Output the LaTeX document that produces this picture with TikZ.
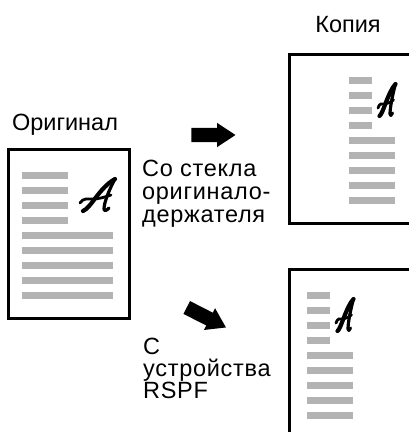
\documentclass[tikz,border=0pt]{standalone}
\usepackage{fontspec}
\setmainfont{Liberation Sans}
\newfontfamily\capfont[LetterSpace=3]{Liberation Sans}
\usetikzlibrary{shapes.arrows}
\definecolor{bargray}{RGB}{179,179,179}
\tikzset{
  scriptA/.pic={
    \draw[line width=4.2pt, line cap=round] (6,33) .. controls (14,30) and (22,10) .. (38,1);
    \draw[line width=3.2pt, line cap=round, line join=round] (38,1) .. controls (33,10) and (27,24) .. (27,31) .. controls (27,33.5) and (30,32.5) .. (32,30);
    \draw[line width=2.8pt, line cap=round] (3,25) .. controls (6,20) and (10,21) .. (16,21) .. controls (22,21) and (28,19) .. (34,17);
  }
}
\begin{document}
\begin{tikzpicture}[x=1pt,y=-1pt,
  lbl/.style={font=\fontsize{23.5}{23}\selectfont, inner sep=0pt},
  caplbl/.style={font=\capfont\fontsize{23.5}{23}\selectfont, inner sep=0pt},
  caplbltight/.style={font=\capfont\fontsize{23.5}{22}\selectfont, inner sep=0pt},
  pagebox/.style={draw=black, line width=2.8pt, fill=white, inner sep=0pt, anchor=north west},
  bar/.style={fill=bargray},
  bigarrow/.style={single arrow, fill=black, draw=none, inner xsep=0pt, inner ysep=7pt,
    minimum width=24pt, minimum height=44pt, single arrow head extend=5pt,
    single arrow tip angle=67, single arrow head indent=0pt}
]
\useasboundingbox (0,0) rectangle (408,432);

% labels
\node[lbl, anchor=base] (origLabel) at (65,130) {Оригинал};
\node[lbl, anchor=base] (copyLabel) at (348,32) {Копия};

% pages
\node[pagebox, minimum width=121pt, minimum height=169pt] (orig) at (7,148) {};
\node[pagebox, minimum width=140pt, minimum height=169pt] (copyGlass) at (288,53) {};
\node[pagebox, minimum width=140pt, minimum height=180pt] (copyRSPF) at (288,268) {};

% original content
\foreach \i in {0,...,3} \fill[bar] (22,{171.5+15*\i}) rectangle (68,{178.5+15*\i});
\foreach \i in {4,...,8} \fill[bar] (22,{171.5+15*\i}) rectangle (113,{178.5+15*\i});
\pic at (77,178) {scriptA};

% copy from glass
\foreach \i in {0,...,3} \fill[bar] (349,{76.5+15*\i}) rectangle (372,{83.5+15*\i});
\foreach \i in {4,...,8} \fill[bar] (349,{76.5+15*\i}) rectangle (395,{83.5+15*\i});
\pic[xscale=0.5] at (376.5,83) {scriptA};

% copy from RSPF
\foreach \i in {0,...,3} \fill[bar] (307,{291.5+15*\i}) rectangle (330,{298.5+15*\i});
\foreach \i in {4,...,8} \fill[bar] (307,{291.5+15*\i}) rectangle (353,{298.5+15*\i});
\pic[xscale=0.5] at (334.5,298) {scriptA};

% arrows
\node[bigarrow] (arrowGlass) at (208,135) {};
\node[bigarrow, rotate=-27] (arrowRSPF) at (201.5,315) {};

% captions
\node[caplbl, anchor=north west, align=left] (glassLabel) at (142,160) {Со стекла\\оригинало-\\держателя};
\node[caplbltight, anchor=north west, align=left] (rspfLabel) at (143,337.6) {С\\устройства\\RSPF};
\end{tikzpicture}
\end{document}
